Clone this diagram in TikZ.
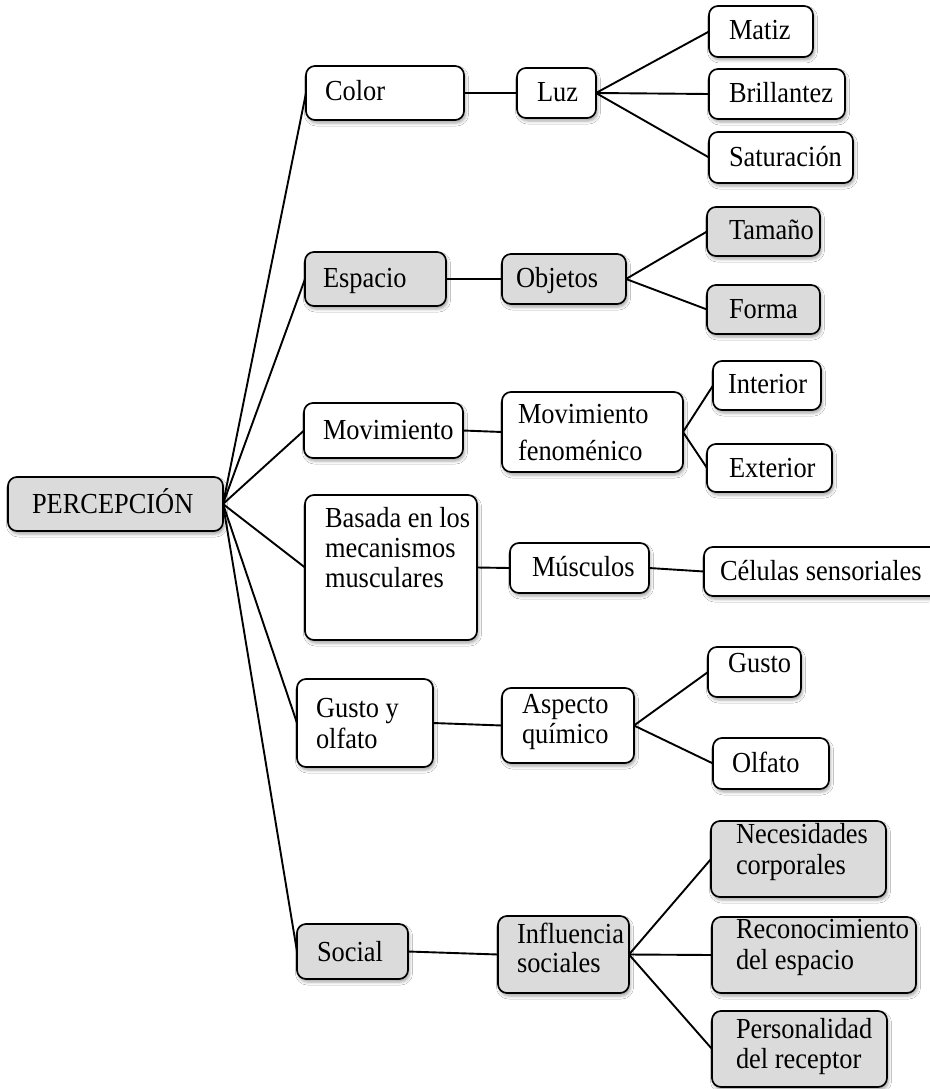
\documentclass[tikz,border=0pt]{standalone}
\usepackage{fontspec}
\setmainfont{Liberation Serif}
\usetikzlibrary{shadows.blur}

\tikzset{
  card/.style={draw=black, line width=1.7pt, rounded corners=9pt,
    inner sep=0pt, outer sep=0pt,
    blur shadow={shadow xshift=1.5pt, shadow yshift=-3pt,
      shadow blur radius=3pt, shadow opacity=35}},
  plain/.style={card, fill=white},
  shaded/.style={card, fill=black!14},
  txt/.style={anchor=base west, inner sep=0pt, outer sep=0pt,
    font=\fontsize{26.4}{31}\selectfont},
  link/.style={draw=black, line width=1.9pt}
}

% box: style, name, x1, y1, x2, y2 (page units, y downwards)
\newcommand\card[6]{%
  \node[#1, minimum width={(#5-#3)*1pt}, minimum height={(#6-#4)*1pt}]
    (#2) at ({(#3+#5)/2},{(#4+#6)/2}) {};}
% label: name, baseline start, text (set slightly tall)
\newcommand\lbl[3]{\node[txt] (#1) at (#2) {\scalebox{1}[1.1]{#3}};}

\begin{document}
\begin{tikzpicture}[x=1pt, y=-1pt]
\useasboundingbox (0,0) rectangle (929,1089);
\fill[white] (0,0) rectangle (929,1089);

% boxes
\card{shaded}{root}{8}{477}{223}{531}
\card{plain}{color}{306}{66}{464}{120}
\card{plain}{luz}{517}{68}{596}{118}
\card{plain}{matiz}{709}{6}{813}{57}
\card{plain}{brill}{709}{69}{845}{119}
\card{plain}{satur}{709}{132}{853}{183}
\card{shaded}{espacio}{305}{252}{446}{306}
\card{shaded}{objetos}{502}{254}{626}{304}
\card{shaded}{tamano}{707}{207}{820}{256}
\card{shaded}{forma}{707}{285}{820}{334}
\card{plain}{movim}{304}{403}{463}{458}
\card{plain}{movfen}{502}{392}{683}{472}
\card{plain}{interior}{713}{361}{821}{410}
\card{plain}{exterior}{707}{444}{832}{492}
\card{plain}{basada}{305}{495}{477}{640}
\card{plain}{musculos}{510}{543}{649}{593}
\card{plain}{celulas}{704}{547}{945}{596}
\card{plain}{gyo}{297}{679}{433}{767}
\card{plain}{aq}{502}{688}{634}{763}
\card{plain}{gusto}{708}{647}{801}{697}
\card{plain}{olfato}{713}{738}{829}{789}
\card{shaded}{social}{297}{924}{408}{979}
\card{shaded}{influ}{498}{916}{629}{993}
\card{shaded}{neces}{711}{821}{886}{897}
\card{shaded}{recon}{712}{917}{916}{993}
\card{shaded}{person}{712}{1011}{887}{1087}

% labels
\lbl{t-root}{32,513}{PERCEPCIÓN}
\lbl{t-color}{325,101}{Color}
\lbl{t-luz}{537,102}{Luz}
\lbl{t-matiz}{729,40}{Matiz}
\lbl{t-brill}{729,103}{Brillantez}
\lbl{t-satur}{729,166}{Saturación}
\lbl{t-espacio}{323,287}{Espacio}
\lbl{t-objetos}{516,287}{Objetos}
\lbl{t-tamano}{729,239}{Tamaño}
\lbl{t-forma}{729,318}{Forma}
\lbl{t-movim}{323,439}{Movimiento}
\lbl{t-movfen1}{518,423}{Movimiento}
\lbl{t-movfen2}{518,460}{fenoménico}
\lbl{t-interior}{728,393}{Interior}
\lbl{t-exterior}{729,477}{Exterior}
\lbl{t-basada1}{325,527}{Basada en los}
\lbl{t-basada2}{325,557}{mecanismos}
\lbl{t-basada3}{325,587}{musculares}
\lbl{t-musculos}{532,576}{Músculos}
\lbl{t-celulas}{720,580}{Células sensoriales}
\lbl{t-gyo1}{316,717}{Gusto y}
\lbl{t-gyo2}{316,748}{olfato}
\lbl{t-aq1}{522,713}{Aspecto}
\lbl{t-aq2}{522,743}{químico}
\lbl{t-gusto}{728,672}{Gusto}
\lbl{t-olfato}{732,772}{Olfato}
\lbl{t-social}{317,961}{Social}
\lbl{t-influ1}{517,943}{Influencia}
\lbl{t-influ2}{517,972}{sociales}
\lbl{t-neces1}{736,843}{Necesidades}
\lbl{t-neces2}{736,874}{corporales}
\lbl{t-recon1}{736,938}{Reconocimiento}
\lbl{t-recon2}{736,969}{del espacio}
\lbl{t-person1}{736,1038}{Personalidad}
\lbl{t-person2}{736,1068}{del receptor}

% connectors from the root
\foreach \t in {color, espacio, movim, basada, gyo, social}
  \draw[link] (root.east) -- (\t.west);

% second level
\draw[link] (color.east) -- (luz.west);
\draw[link] (espacio.east) -- (objetos.west);
\draw[link] (movim.east) -- (movfen.west);
\draw[link] (basada.east) -- (musculos.west);
\draw[link] (gyo.east) -- (aq.west);
\draw[link] (social.east) -- (influ.west);

% third level
\foreach \t in {matiz, brill, satur} \draw[link] (luz.east) -- (\t.west);
\foreach \t in {tamano, forma} \draw[link] (objetos.east) -- (\t.west);
\foreach \t in {interior, exterior} \draw[link] (movfen.east) -- (\t.west);
\draw[link] (musculos.east) -- (celulas.west);
\foreach \t in {gusto, olfato} \draw[link] (aq.east) -- (\t.west);
\foreach \t in {neces, recon, person} \draw[link] (influ.east) -- (\t.west);
\end{tikzpicture}
\end{document}
